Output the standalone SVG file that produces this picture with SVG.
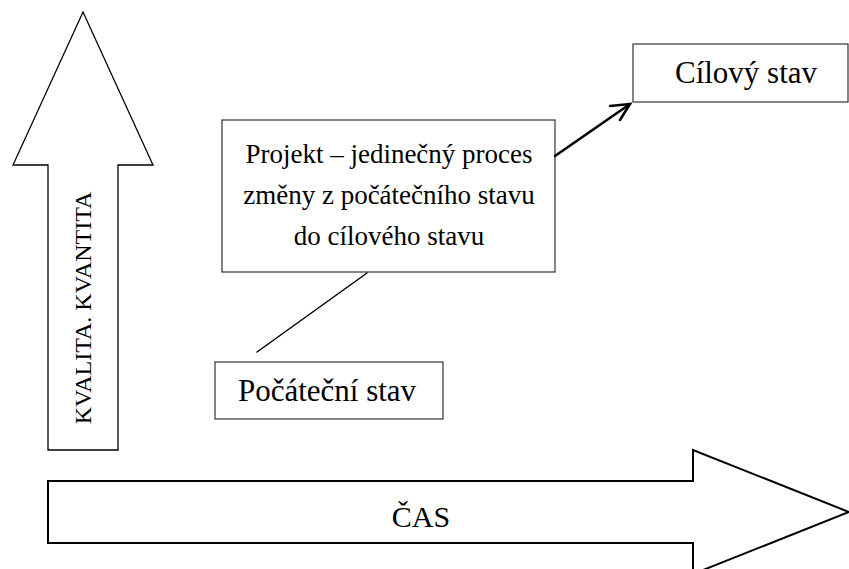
<svg xmlns="http://www.w3.org/2000/svg" width="849" height="569" viewBox="0 0 849 569">
<style>
.shape{fill:#fff;stroke:#000;stroke-width:1.3}
.box{fill:#fff;stroke:#333;stroke-width:1.2}
text{font-family:Liberation Serif,Times New Roman,DejaVu Serif,serif;fill:#000;text-anchor:middle}
.conn{stroke:#000;fill:none;stroke-linecap:round}
</style>
<rect width="849" height="569" fill="#fff"/>
<g id="arrow-quality">
<polygon class="shape" points="83,12 153,165 118,165 118,450 48,450 48,165 13,165"/>
<text font-family="Liberation Serif" transform="translate(91,308) rotate(-90)" font-size="24">KVALITA. KVANTITA</text>
</g>
<g id="arrow-time">
<polygon class="shape" style="stroke-width:2" points="48,481 693,481 693,450 849,512 693,574 693,543 48,543"/>
<text font-family="Liberation Serif" x="421" y="527" font-size="30">ČAS</text>
</g>
<g id="project">
<rect class="box" x="222" y="120" width="333" height="152"/>
<text font-family="Liberation Serif" x="389" y="163" font-size="27">Projekt – jedinečný proces</text>
<text font-family="Liberation Serif" x="389" y="204" font-size="27">změny z počátečního stavu</text>
<text font-family="Liberation Serif" x="389" y="245" font-size="27">do cílového stavu</text>
</g>
<g id="start">
<rect class="box" x="215" y="362" width="228" height="57"/>
<text font-family="Liberation Serif" x="327" y="401" font-size="31">Počáteční stav</text>
</g>
<g id="target">
<rect class="box" x="633" y="44" width="215" height="58"/>
<text font-family="Liberation Serif" x="746" y="83" font-size="31">Cílový stav</text>
</g>
<g id="connectors">
<line class="conn" stroke-width="1.5" x1="257" y1="352" x2="367" y2="273"/>
<line class="conn" stroke-width="2.5" x1="555" y1="156" x2="630" y2="104"/>
<polyline class="conn" stroke-width="2.5" points="610,106 630,104 620,120"/>
</g>
</svg>
